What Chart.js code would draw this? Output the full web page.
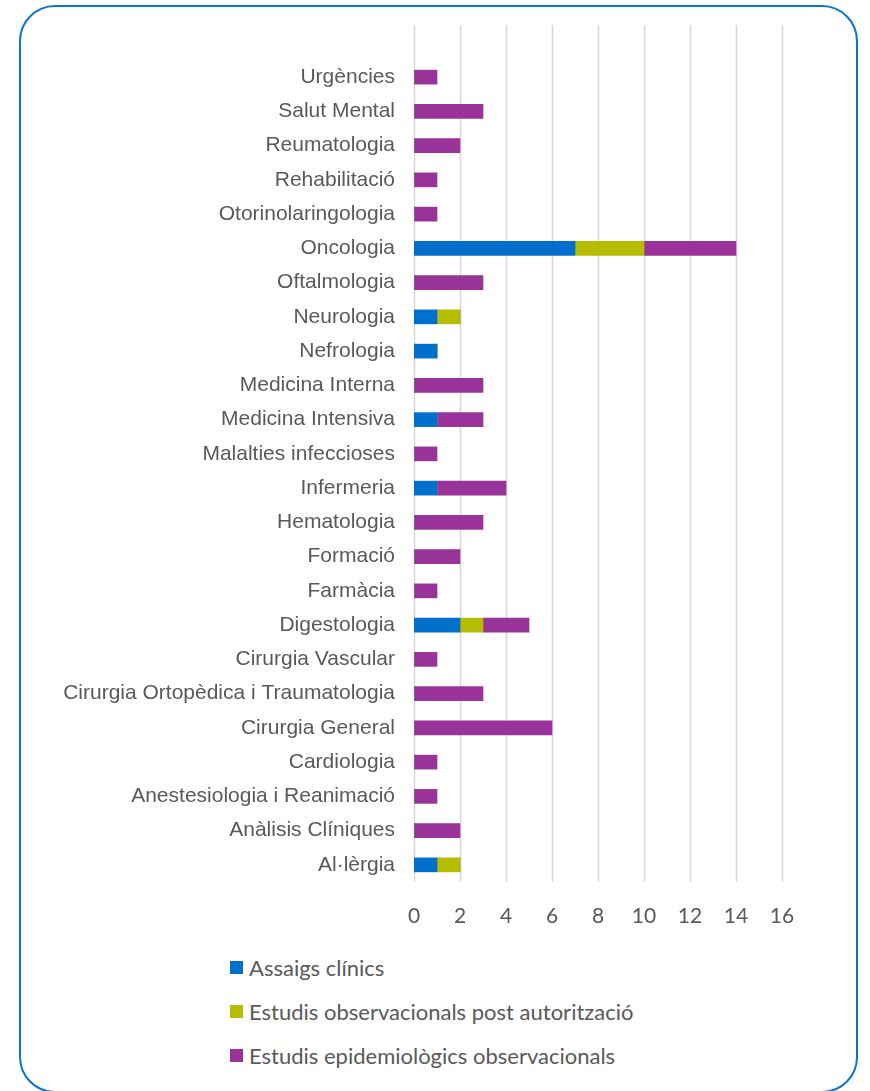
<!DOCTYPE html>
<html>
<head>
<meta charset="utf-8">
<script src="https://cdn.jsdelivr.net/npm/chart.js@4.4.1/dist/chart.umd.min.js"></script>
<style>
  html, body { margin: 0; padding: 0; background: #fff; width: 870px; height: 1091px; overflow: hidden; }
  #frame { position: absolute; left: 19px; top: 5px; width: 835px; height: 1084px; border: 2.5px solid #0A74D0; border-radius: 36px; }
  #wrap { position: absolute; left: 0; top: 0; width: 870px; height: 940px; }
  #legend { position: absolute; left: 230px; top: 945px; font-family: Lato, "Open Sans", sans-serif; font-size: 22px; color: #595959; }
  .item { height: 44px; display: flex; align-items: center; }
  .sw { width: 13px; height: 13px; margin-right: 6px; flex: none; }
</style>
</head>
<body>
<div id="frame"></div>
<div id="wrap"><canvas id="c" width="870" height="940"></canvas></div>
<div id="legend"></div>
<script>
const categories = ["Urgències","Salut Mental","Reumatologia","Rehabilitació","Otorinolaringologia","Oncologia","Oftalmologia","Neurologia","Nefrologia","Medicina Interna","Medicina Intensiva","Malalties infeccioses","Infermeria","Hematologia","Formació","Farmàcia","Digestologia","Cirurgia Vascular","Cirurgia Ortopèdica i Traumatologia","Cirurgia General","Cardiologia","Anestesiologia i Reanimació","Anàlisis Clíniques","Al·lèrgia"];
const seriesNames = ["Assaigs clínics","Estudis observacionals post autorització","Estudis epidemiològics observacionals"];
const assaigs   = [0,0,0,0,0,7,0,1,1,0,1,0,1,0,0,0,2,0,0,0,0,0,0,1];
const postAut   = [0,0,0,0,0,3,0,1,0,0,0,0,0,0,0,0,1,0,0,0,0,0,0,1];
const epidem    = [1,3,2,1,1,4,3,0,0,3,2,1,3,3,2,1,2,1,3,6,1,1,2,0];
const xTicks = [0,2,4,6,8,10,12,14,16];
const colors = ["#0070CC","#B5BD00","#993399"];

const gridColor = "#D9D9D9";
const gridExtend = {
  id: 'gridExtend',
  beforeDatasetsDraw(chart) {
    const {ctx, chartArea, scales} = chart;
    ctx.save();
    ctx.strokeStyle = gridColor;
    ctx.lineWidth = 1.6;
    xTicks.forEach(v => {
      const x = Math.round(scales.x.getPixelForValue(v)) + 0.5;
      ctx.beginPath();
      ctx.moveTo(x, 25);
      ctx.lineTo(x, chartArea.bottom);
      ctx.stroke();
    });
    ctx.restore();
  }
};

const data = {
  labels: categories,
  datasets: [assaigs, postAut, epidem].map((d, i) => ({
    label: seriesNames[i],
    data: d,
    backgroundColor: colors[i],
    borderWidth: 0,
    barThickness: 14
  }))
};

const chart = new Chart(document.getElementById('c'), {
  type: 'bar',
  data,
  plugins: [gridExtend],
  options: {
    indexAxis: 'y',
    responsive: false,
    animation: false,
    layout: { padding: { top: 60, right: 88, left: 0, bottom: 0 } },
    plugins: { legend: { display: false }, tooltip: { enabled: false } },
    scales: {
      x: {
        stacked: true,
        min: 0, max: 16,
        afterBuildTicks(s) { s.ticks = xTicks.map(v => ({ value: v })); },
        afterFit(s) { s.height = 58; },
        grid: { display: false, drawTicks: false },
        border: { display: false },
        ticks: { color: "#595959", font: { family: "Lato, 'Open Sans', sans-serif", size: 21 }, padding: 22, maxRotation: 0 }
      },
      y: {
        stacked: true,
        afterFit(s) { s.width = 414; },
        grid: { display: false, drawTicks: false },
        border: { display: false },
        ticks: { color: "#595959", font: { family: "'Liberation Sans', Arial, sans-serif", size: 21 }, padding: 19, autoSkip: false }
      }
    }
  }
});

const leg = document.getElementById('legend');
chart.data.datasets.forEach(ds => {
  const it = document.createElement('div');
  it.className = 'item';
  const sw = document.createElement('span');
  sw.className = 'sw';
  sw.style.background = ds.backgroundColor;
  const tx = document.createElement('span');
  tx.textContent = ds.label;
  it.appendChild(sw); it.appendChild(tx);
  leg.appendChild(it);
});
</script>
</body>
</html>
